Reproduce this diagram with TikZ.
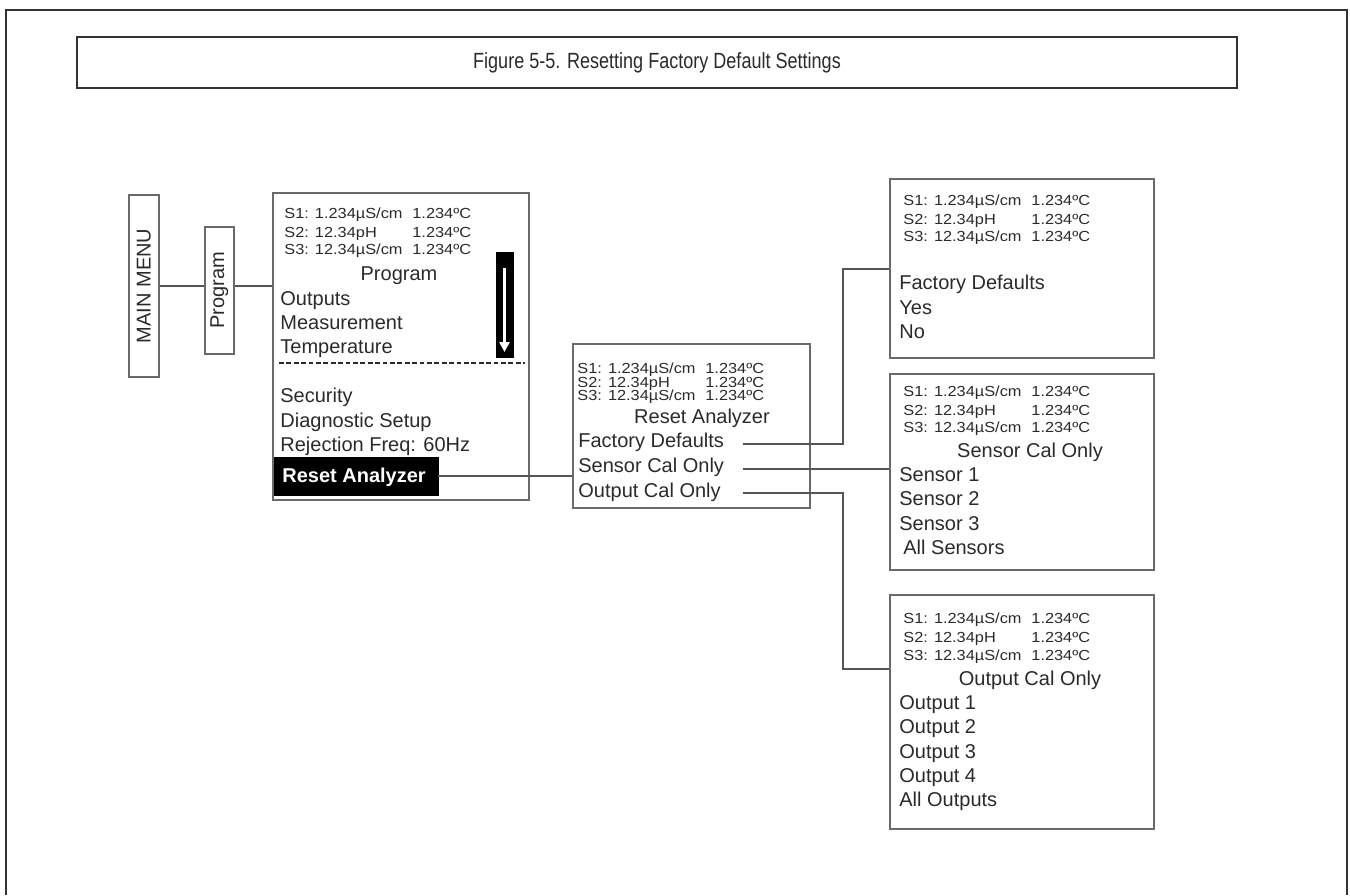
\documentclass[tikz,border=0pt]{standalone}
\usepackage{fontspec}
\usepackage{graphicx}
\setmainfont{Liberation Sans}
\usetikzlibrary{arrows.meta}
\definecolor{txt}{HTML}{2A2A2A}
\definecolor{boxc}{HTML}{6A6A6A}
\definecolor{framec}{HTML}{333333}
\definecolor{linec}{HTML}{555555}
\newcommand\sq[1]{\scalebox{1.12}[1]{#1}}
\newcommand\slines[5]{%
  \node[sm] (#1s1) at (#2,#3) {\sq{S1: 1.234µS/cm}};
  \node[sm] (#1t1) at (#2+128,#3) {\sq{1.234ºC}};
  \node[sm] (#1s2) at (#2,#4) {\sq{S2: 12.34pH}};
  \node[sm] (#1t2) at (#2+128,#4) {\sq{1.234ºC}};
  \node[sm] (#1s3) at (#2,#5) {\sq{S3: 12.34µS/cm}};
  \node[sm] (#1t3) at (#2+128,#5) {\sq{1.234ºC}};
}
\begin{document}
\begin{tikzpicture}[x=0.5pt,y=-0.5pt,
  sm/.style={anchor=base west, inner sep=0pt, font=\fontsize{7.3}{8}\selectfont, text=txt},
  lg/.style={anchor=base west, inner sep=0pt, font=\fontsize{10}{12}\selectfont, text=txt},
  hd/.style={anchor=base, inner sep=0pt, font=\fontsize{10}{12}\selectfont, text=txt},
  box/.style={draw=boxc, line width=0.8pt, anchor=north west, inner sep=0pt},
  conn/.style={draw=linec, line width=0.55pt},
  frameline/.style={draw=framec, line width=1.3pt}]
\useasboundingbox (0,0) rectangle (1350,895);
% outer frame
\draw[frameline] (6,895) -- (6,10) -- (1347,10) -- (1347,895);
% title
\node[draw=framec, line width=1.1pt, minimum width=580pt, minimum height=25.5pt, inner sep=0pt,
  font=\fontsize{11}{13}\selectfont, text=txt] (title) at (657,62.5) {\scalebox{0.82}[1]{Figure 5-5. Resetting Factory Default Settings}};
% main menu and program
\node[box, minimum width=15pt, minimum height=91pt] (mm) at (128,194) {};
\node[rotate=90, font=\fontsize{10}{12}\selectfont, text=txt, inner sep=0pt] (mmt) at (mm.center) {MAIN MENU};
\node[box, minimum width=14.5pt, minimum height=63.5pt] (pg) at (204,226) {};
\node[rotate=90, font=\fontsize{10}{12}\selectfont, text=txt, inner sep=0pt] (pgt) at (pg.center) {Program};
% program screen
\node[box, minimum width=128pt, minimum height=153.5pt] (prog) at (272,192) {};
\slines{p}{284}{218}{237}{254}
\node[hd] (ph) at (399,280) {Program};
\node[lg] (p1) at (280,305) {Outputs};
\node[lg] (p2) at (280,329) {Measurement};
\node[lg] (p3) at (280,353) {Temperature};
\draw[draw=txt, line width=0.75pt, dash pattern=on 2.4pt off 1.3pt] (279,363) -- (525,363);
\node[lg] (p4) at (280,402) {Security};
\node[lg] (p5) at (280,427) {Diagnostic Setup};
\node[lg] (p6) at (280,451) {Rejection Freq: 60Hz};
\node[box, fill=black, draw=black, line width=0pt, minimum width=82pt, minimum height=19pt] (hl) at (274,457) {};
\node[lg, text=white, font=\fontsize{10}{12}\selectfont\bfseries] (p7) at (282,482) {Reset Analyzer};
% scroll arrow
\node[box, fill=black, draw=black, line width=0pt, minimum width=8.5pt, minimum height=52.5pt] (arr) at (496,252) {};
\draw[white, line width=1.8pt, -{Triangle[length=5pt, width=5pt]}] ([yshift=-8pt]arr.north) -- ([yshift=2.5pt]arr.south);
% reset analyzer screen
\node[box, minimum width=118.5pt, minimum height=82pt] (reset) at (572,343) {};
\slines{r}{577}{373}{387}{400}
\node[hd] (rh) at (702,423) {Reset Analyzer};
\node[lg] (r1) at (578,447) {Factory Defaults};
\node[lg] (r2) at (578,472) {Sensor Cal Only};
\node[lg] (r3) at (578,497) {Output Cal Only};
% factory defaults screen
\node[box, minimum width=132pt, minimum height=89.5pt] (fact) at (889,178) {};
\slines{f}{903}{205}{224}{241}
\node[lg] (f1) at (899,289) {Factory Defaults};
\node[lg] (f2) at (899,314) {Yes};
\node[lg] (f3) at (899,338) {No};
% sensor cal screen
\node[box, minimum width=132pt, minimum height=98pt] (sens) at (889,373) {};
\slines{s}{903}{396}{415}{432}
\node[hd] (sh) at (1030,457) {Sensor Cal Only};
\node[lg] (s1) at (899,481) {Sensor 1};
\node[lg] (s2) at (899,505) {Sensor 2};
\node[lg] (s3) at (899,530) {Sensor 3};
\node[lg] (s4) at (903,554) {All Sensors};
% output cal screen
\node[box, minimum width=132pt, minimum height=117pt] (outp) at (889,594) {};
\slines{o}{903}{623}{642}{660}
\node[hd] (oh) at (1030,685) {Output Cal Only};
\node[lg] (o1) at (899,709) {Output 1};
\node[lg] (o2) at (899,733) {Output 2};
\node[lg] (o3) at (899,758) {Output 3};
\node[lg] (o4) at (899,782) {Output 4};
\node[lg] (o5) at (899,806) {All Outputs};
% connectors
\coordinate (mmy) at (0,286);
\draw[conn] (mm.east |- mmy) -- (pg.west |- mmy);
\draw[conn] (pg.east |- mmy) -- (prog.west |- mmy);
\draw[conn] (hl.east) -- (hl.east -| reset.west);
\coordinate (fdL) at (743,444);
\coordinate (scL) at (743,469);
\coordinate (ocL) at (743,493);
\coordinate (fdy) at (0,269);
\coordinate (ocy) at (0,669);
\draw[conn] (fdL) -- ++(100,0) |- (fact.west |- fdy);
\draw[conn] (scL) -- (scL -| sens.west);
\draw[conn] (ocL) -- ++(100,0) |- (outp.west |- ocy);
\end{tikzpicture}
\end{document}
